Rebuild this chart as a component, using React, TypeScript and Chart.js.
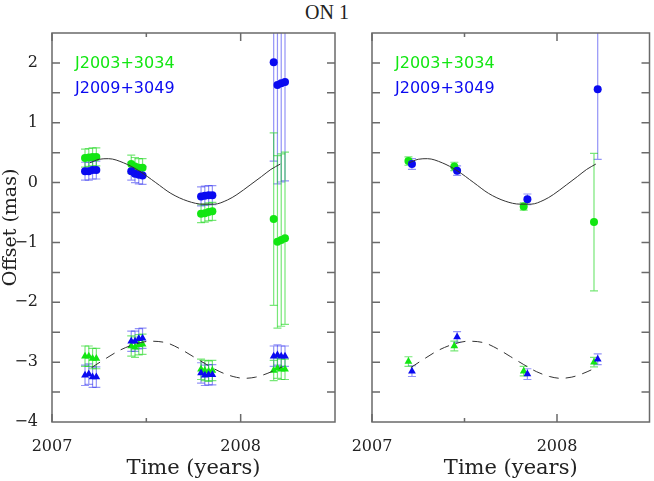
import React, { useEffect, useRef } from 'react';
import { Chart, registerables } from 'chart.js';

Chart.register(...registerables);

// ---------- axes ----------
const xMin = 2007;
const xMax = 2008.5;
const yMin = -4;
const yMax = 2.5;
const xTickValues = [2007, 2008];
const xMinorTickValues = [2007.5];
const yTickValues = [-4, -3, -2, -1, 0, 1, 2];
const yFrameTickValues = [-3.5, -3, -2.5, -2, -1.5, -1, -0.5, 0, 0.5, 1, 1.5, 2];

const chartTitle = 'ON 1';
const xAxisTitle = 'Time (years)';
const yAxisTitle = 'Offset (mas)';
const sourceNames = ['J2003+3034', 'J2009+3049'];

// ---------- left panel: individual measurements ----------
const leftTimes = [
  2007.175, 2007.195, 2007.215, 2007.235,
  2007.42, 2007.44, 2007.46, 2007.48,
  2007.79, 2007.81, 2007.83, 2007.85,
  2008.175, 2008.195, 2008.215, 2008.235,
];
const leftGreenCircle = [0.41, 0.42, 0.43, 0.43, 0.31, 0.27, 0.25, 0.25, -0.52, -0.51, -0.49, -0.48, -0.61, -0.99, -0.96, -0.93];
const leftGreenCircleErr = [0.15, 0.15, 0.15, 0.15, 0.15, 0.15, 0.15, 0.15, 0.15, 0.15, 0.15, 0.15, 1.44, 1.44, 1.44, 1.44];
const leftBlueCircle = [0.19, 0.19, 0.21, 0.21, 0.19, 0.15, 0.13, 0.12, -0.23, -0.22, -0.21, -0.21, 2.01, 1.63, 1.66, 1.68];
const leftBlueCircleErr = [0.15, 0.15, 0.15, 0.15, 0.15, 0.15, 0.15, 0.15, 0.16, 0.16, 0.16, 0.16, 1.65, 1.65, 1.65, 1.65];
const leftGreenTriangle = [-2.9, -2.9, -2.94, -2.94, -2.73, -2.75, -2.71, -2.7, -3.12, -3.14, -3.15, -3.14, -3.14, -3.1, -3.12, -3.12];
const leftGreenTriangleErr = [0.17, 0.17, 0.17, 0.17, 0.17, 0.17, 0.17, 0.17, 0.17, 0.17, 0.17, 0.17, 0.17, 0.17, 0.17, 0.17];
const leftBlueTriangle = [-3.22, -3.2, -3.25, -3.25, -2.65, -2.65, -2.61, -2.6, -3.18, -3.22, -3.21, -3.21, -2.9, -2.88, -2.9, -2.9];
const leftBlueTriangleErr = [0.17, 0.17, 0.17, 0.17, 0.17, 0.17, 0.17, 0.17, 0.17, 0.17, 0.17, 0.17, 0.17, 0.17, 0.17, 0.17];

// ---------- right panel: epoch averages ----------
const rightGreenTimes = [2007.197, 2007.445, 2007.82, 2008.2];
const rightBlueTimes = [2007.216, 2007.46, 2007.84, 2008.22];
const rightGreenCircle = [0.36, 0.27, -0.4, -0.66];
const rightGreenCircleErr = [0.07, 0.07, 0.06, 1.15];
const rightBlueCircle = [0.31, 0.2, -0.28, 1.56];
const rightBlueCircleErr = [0.09, 0.08, 0.09, 1.17];
const rightGreenTriangle = [-2.99, -2.73, -3.15, -3.0];
const rightGreenTriangleErr = [0.08, 0.08, 0.08, 0.08];
const rightBlueTriangle = [-3.15, -2.58, -3.2, -2.95];
const rightBlueTriangleErr = [0.09, 0.09, 0.09, 0.09];

// ---------- model curves ----------
const solidCurveTimes = [2007.2, 2007.25, 2007.3, 2007.38, 2007.46, 2007.55, 2007.63, 2007.72, 2007.8, 2007.86, 2007.93, 2007.98, 2008.05, 2008.11, 2008.16, 2008.21];
const solidCurveValues = [0.33, 0.39, 0.4, 0.33, 0.2, 0.0, -0.18, -0.31, -0.36, -0.36, -0.29, -0.2, -0.04, 0.1, 0.22, 0.31];
const dashedCurveTimes = [2007.21, 2007.29, 2007.36, 2007.44, 2007.52, 2007.61, 2007.68, 2007.75, 2007.82, 2007.89, 2007.96, 2008.02, 2008.08, 2008.14, 2008.22];
const dashedCurveValues = [-3.09, -2.93, -2.8, -2.7, -2.65, -2.68, -2.78, -2.91, -3.04, -3.16, -3.24, -3.27, -3.25, -3.19, -3.08];

// ---------- styles ----------
const GREEN = '#12e612';
const BLUE = '#0a0af0';
const GREEN_ERR = 'rgba(30,215,30,0.6)';
const BLUE_ERR = 'rgba(40,40,240,0.5)';
const CURVE = '#333333';
const FRAME = '#6a6a6a';
const TEXT = '#222222';
const SERIF = '"DejaVu Serif", serif';

const pts = (xs: number[], ys: number[]) => ys.map((y, i) => ({ x: xs[i], y }));

function pointSet(xs: number[], ys: number[], errs: number[], color: string, errColor: string, style: string) {
  return {
    type: 'scatter',
    data: pts(xs, ys),
    errors: errs,
    errorColor: errColor,
    pointStyle: style,
    pointRadius: style === 'circle' ? 4 : 4.5,
    pointBackgroundColor: color,
    pointBorderColor: color,
    pointBorderWidth: 0,
    showLine: false,
  } as any;
}

function curveSets() {
  return [
    {
      type: 'line',
      data: pts(solidCurveTimes, solidCurveValues),
      borderColor: CURVE,
      borderWidth: 1,
      pointRadius: 0,
      cubicInterpolationMode: 'monotone',
      fill: false,
    },
    {
      type: 'line',
      data: pts(dashedCurveTimes, dashedCurveValues),
      borderColor: CURVE,
      borderWidth: 1,
      borderDash: [10, 7],
      pointRadius: 0,
      cubicInterpolationMode: 'monotone',
      fill: false,
    },
  ] as any[];
}

const errorBarPlugin = {
  id: 'errorBars',
  beforeDatasetsDraw(chart: any) {
    const { ctx, chartArea: a, scales } = chart;
    const x = scales.x;
    const y = scales.y;
    ctx.save();
    ctx.beginPath();
    ctx.rect(a.left, a.top, a.right - a.left, a.bottom - a.top);
    ctx.clip();
    chart.data.datasets.forEach((ds: any) => {
      if (!ds.errors) return;
      ctx.strokeStyle = ds.errorColor;
      ctx.lineWidth = 1.2;
      ds.data.forEach((p: any, j: number) => {
        const px = x.getPixelForValue(p.x);
        const y1 = y.getPixelForValue(p.y + ds.errors[j]);
        const y2 = y.getPixelForValue(p.y - ds.errors[j]);
        ctx.beginPath();
        ctx.moveTo(px, y1);
        ctx.lineTo(px, y2);
        ctx.moveTo(px - 4, y1);
        ctx.lineTo(px + 4, y1);
        ctx.moveTo(px - 4, y2);
        ctx.lineTo(px + 4, y2);
        ctx.stroke();
      });
    });
    ctx.restore();
  },
};

const framePlugin = {
  id: 'frame',
  afterDatasetsDraw(chart: any) {
    const { ctx, chartArea: a, scales } = chart;
    const x = scales.x;
    const y = scales.y;
    ctx.save();
    ctx.strokeStyle = FRAME;
    ctx.lineWidth = 1.5;
    ctx.strokeRect(a.left, a.top, a.right - a.left, a.bottom - a.top);
    ctx.beginPath();
    xTickValues.forEach((v) => {
      const px = x.getPixelForValue(v);
      ctx.moveTo(px, a.bottom);
      ctx.lineTo(px, a.bottom - 8);
      ctx.moveTo(px, a.top);
      ctx.lineTo(px, a.top + 8);
    });
    xMinorTickValues.forEach((v) => {
      const px = x.getPixelForValue(v);
      ctx.moveTo(px, a.bottom);
      ctx.lineTo(px, a.bottom - 4);
      ctx.moveTo(px, a.top);
      ctx.lineTo(px, a.top + 4);
    });
    yFrameTickValues.forEach((v) => {
      const py = y.getPixelForValue(v);
      ctx.moveTo(a.left, py);
      ctx.lineTo(a.left + 8, py);
      ctx.moveTo(a.right, py);
      ctx.lineTo(a.right - 8, py);
    });
    ctx.stroke();
    ctx.restore();
  },
};

const sourceLabelPlugin = {
  id: 'sourceLabels',
  afterDraw(chart: any) {
    const { ctx, chartArea: a } = chart;
    ctx.save();
    ctx.font = '16px "DejaVu Sans", sans-serif';
    ctx.textAlign = 'left';
    ctx.textBaseline = 'middle';
    ctx.fillStyle = GREEN;
    ctx.fillText(sourceNames[0], a.left + 23, a.top + 31);
    ctx.fillStyle = BLUE;
    ctx.fillText(sourceNames[1], a.left + 23, a.top + 56);
    ctx.restore();
  },
};

function makeConfig(datasets: any[], left: boolean) {
  return {
    type: 'scatter',
    data: { datasets },
    plugins: [errorBarPlugin, framePlugin, sourceLabelPlugin],
    options: {
      responsive: false,
      animation: false,
      events: [],
      layout: { padding: left ? { top: 33, right: 10, left: 0, bottom: 0 } : { top: 33, right: 1, left: 27, bottom: 0 } },
      plugins: { legend: { display: false }, tooltip: { enabled: false }, title: { display: false } },
      scales: {
        x: {
          type: 'linear',
          min: xMin,
          max: xMax,
          grid: { display: false, drawTicks: false },
          border: { display: false },
          afterBuildTicks: (s: any) => {
            s.ticks = xTickValues.map((v) => ({ value: v }));
          },
          afterFit: (s: any) => {
            s.height = 59;
            s.paddingLeft = 0;
            s.paddingRight = 0;
          },
          ticks: {
            autoSkip: false,
            maxRotation: 0,
            padding: 15,
            color: TEXT,
            font: { family: SERIF, size: 16 },
            callback: (v: any) => String(v),
          },
          title: {
            display: true,
            text: xAxisTitle,
            color: TEXT,
            font: { family: SERIF, size: 21 },
            padding: { top: 0, bottom: 0 },
          },
        },
        y: {
          type: 'linear',
          min: yMin,
          max: yMax,
          display: left,
          grid: { display: false, drawTicks: false },
          border: { display: false },
          afterBuildTicks: (s: any) => {
            s.ticks = yTickValues.map((v) => ({ value: v }));
          },
          afterFit: (s: any) => {
            s.width = left ? 52 : 0;
            s.paddingTop = 0;
            s.paddingBottom = 0;
          },
          ticks: {
            autoSkip: false,
            padding: 14,
            color: TEXT,
            font: { family: SERIF, size: 16 },
            callback: (v: any) => String(v).replace('-', '\u2212'),
          },
          title: {
            display: left,
            text: yAxisTitle,
            color: TEXT,
            font: { family: SERIF, size: 19 },
            padding: { top: 0, bottom: 0 },
          },
        },
      },
    },
  } as any;
}

export default function App() {
  const leftRef = useRef<HTMLCanvasElement>(null);
  const rightRef = useRef<HTMLCanvasElement>(null);

  useEffect(() => {
    const leftSets = [
      ...curveSets(),
      pointSet(leftTimes, leftBlueCircle, leftBlueCircleErr, BLUE, BLUE_ERR, 'circle'),
      pointSet(leftTimes, leftBlueTriangle, leftBlueTriangleErr, BLUE, BLUE_ERR, 'triangle'),
      pointSet(leftTimes, leftGreenCircle, leftGreenCircleErr, GREEN, GREEN_ERR, 'circle'),
      pointSet(leftTimes, leftGreenTriangle, leftGreenTriangleErr, GREEN, GREEN_ERR, 'triangle'),
    ];
    const rightSets = [
      ...curveSets(),
      pointSet(rightBlueTimes, rightBlueCircle, rightBlueCircleErr, BLUE, BLUE_ERR, 'circle'),
      pointSet(rightBlueTimes, rightBlueTriangle, rightBlueTriangleErr, BLUE, BLUE_ERR, 'triangle'),
      pointSet(rightGreenTimes, rightGreenCircle, rightGreenCircleErr, GREEN, GREEN_ERR, 'circle'),
      pointSet(rightGreenTimes, rightGreenTriangle, rightGreenTriangleErr, GREEN, GREEN_ERR, 'triangle'),
    ];
    const c1 = new Chart(leftRef.current as HTMLCanvasElement, makeConfig(leftSets, true));
    const c2 = new Chart(rightRef.current as HTMLCanvasElement, makeConfig(rightSets, false));
    return () => {
      c1.destroy();
      c2.destroy();
    };
  }, []);

  return (
    <div style={{ position: 'fixed', left: 0, top: 0, width: 654, height: 481, background: '#ffffff', overflow: 'hidden' }}>
      <div
        style={{
          position: 'absolute',
          left: 0,
          top: 2,
          width: 654,
          textAlign: 'center',
          fontFamily: '"Liberation Serif", serif',
          fontSize: 20,
          lineHeight: '20px',
          color: TEXT,
        }}
      >
        {chartTitle}
      </div>
      <canvas ref={leftRef} width={345} height={481} style={{ position: 'absolute', left: 0, top: 0, width: 345, height: 481 }} />
      <canvas ref={rightRef} width={309} height={481} style={{ position: 'absolute', left: 345, top: 0, width: 309, height: 481 }} />
    </div>
  );
}
